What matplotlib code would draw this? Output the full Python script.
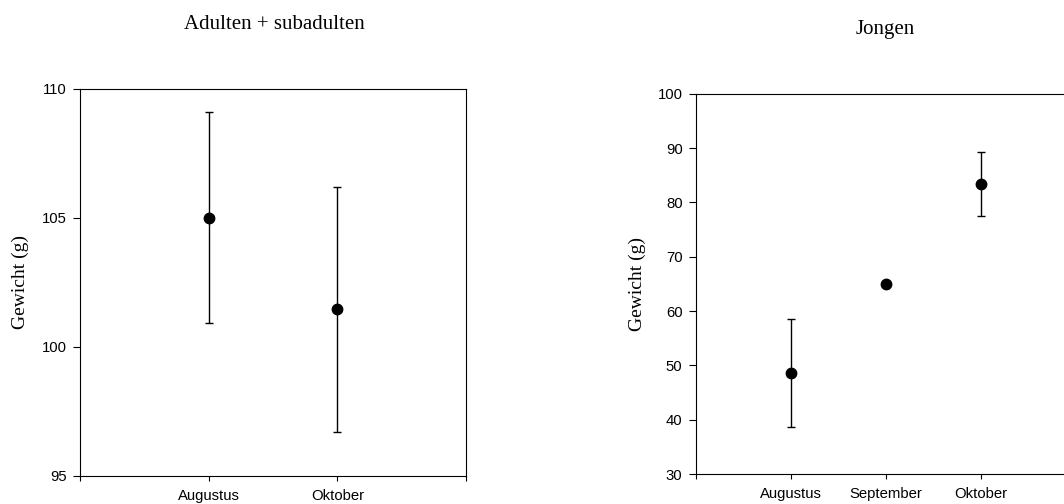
import numpy as np
import matplotlib.pyplot as plt

# Gewicht per maand (gemiddelde en fout)
maanden_ad = ['Augustus', 'Oktober']
gewicht_ad = [105.0, 101.45]
fout_ad = [4.08, 4.74]

maanden_jong = ['Augustus', 'September', 'Oktober']
gewicht_jong = [48.6, 65.0, 83.4]
fout_jong = [9.9, 0.0, 5.9]

serif = 'Liberation Serif'
sans = 'Liberation Sans'

fig = plt.figure(figsize=(10.64, 5.04), dpi=100)


def paneel(ax, maanden, gem, fout, ylim, yticks):
    x = np.arange(1, len(maanden) + 1)
    ax.errorbar(x, gem, yerr=fout, fmt='o', color='black', ms=7.5,
                elinewidth=1, capsize=3, capthick=1)
    ax.set_xlim(0, len(maanden) + 1)
    ax.set_ylim(*ylim)
    ax.set_xticks(np.arange(0, len(maanden) + 2))
    ax.set_xticklabels([''] + maanden + [''], fontname=sans, fontsize=10.7)
    ax.set_yticks(yticks)
    ax.set_yticklabels([str(t) for t in yticks], fontname=sans, fontsize=10.7)
    ax.tick_params(axis='y', direction='out', length=5, width=0.8, pad=4.5)
    ax.tick_params(axis='x', direction='out', length=3.7, width=0.8, pad=6)
    for s in ax.spines.values():
        s.set_linewidth(0.8)
    ax.set_ylabel('Gewicht (g)', fontname=serif, fontsize=14)


# linker paneel
ax1 = fig.add_axes([80 / 1064, 28.3 / 504, 386 / 1064, 387 / 504])
paneel(ax1, maanden_ad, gewicht_ad, fout_ad, (95, 110), [95, 100, 105, 110])
ax1.yaxis.set_label_coords(-0.132, 0.5)

# rechter paneel (loopt over de rand)
ax2 = fig.add_axes([695.7 / 1064, 30 / 504, 380 / 1064, 380.3 / 504])
paneel(ax2, maanden_jong, gewicht_jong, fout_jong, (30, 100),
       [30, 40, 50, 60, 70, 80, 90, 100])
ax2.yaxis.set_label_coords(-0.131, 0.5)

fig.text(274 / 1064, 1 - 29.3 / 504, 'Adulten + subadulten', fontname=serif,
         fontsize=15, ha='center', va='baseline')
fig.text(885.5 / 1064, 1 - 34 / 504, 'Jongen', fontname=serif,
         fontsize=15, ha='center', va='baseline')

fig.savefig('out.png', dpi=100)
